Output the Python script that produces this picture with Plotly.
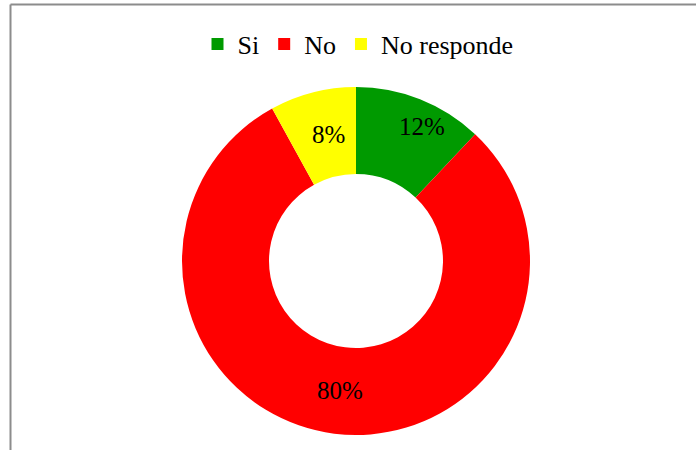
import math
import plotly.graph_objects as go

labels = ["Si", "No", "No responde"]
values = [12, 80, 8]
colors = ["#009A00", "#FF0000", "#FFFF00"]

W, H = 696, 450
cx, cy, R = 356, 261, 174  # pie center/radius in px (layout)
hole = 0.5
FONT = "'Times New Roman', 'Liberation Serif', serif"
label_nudge = {"Si": (18, -13), "No responde": (5, 0)}  # px tweaks for label placement

fig = go.Figure(go.Pie(
    labels=labels, values=values, hole=hole, sort=False,
    direction="clockwise", rotation=0,
    marker=dict(colors=colors, line=dict(width=0)),
    textinfo="none", hoverinfo="label+percent",
    domain=dict(x=[(cx - R) / W, (cx + R) / W], y=[(H - cy - R) / H, (H - cy + R) / H]),
))

total = sum(values)
annotations = []
cum = 0
rm = R * (1 + hole) / 2
for lab, v in zip(labels, values):
    mid = (cum + v / 2) / total
    cum += v
    th = 2 * math.pi * mid
    dx, dy = label_nudge.get(lab, (0, 0))
    px = cx + rm * math.sin(th) + dx
    py = cy - rm * math.cos(th) + dy
    annotations.append(dict(
        x=px / W, y=1 - py / H, xref="paper", yref="paper",
        xanchor="center", yanchor="middle",
        text=f"{round(100 * v / total)}%", showarrow=False,
        font=dict(family=FONT, size=25, color="#000"),
    ))

fig.update_layout(
    width=W, height=H, margin=dict(l=0, r=0, t=0, b=0),
    paper_bgcolor="white", plot_bgcolor="white",
    showlegend=True,
    legend=dict(orientation="h", x=(W / 2 + 10) / W, xanchor="center", y=1 - 44 / H, yanchor="middle",
                font=dict(family=FONT, size=26, color="#000"),
                itemwidth=30, traceorder="normal"),
    annotations=annotations,
    shapes=[
        dict(type="line", xref="paper", yref="paper", x0=10.5 / W, x1=1, y0=1 - 4.5 / H, y1=1 - 4.5 / H,
             line=dict(color="#8C8C8C", width=2)),
        dict(type="line", xref="paper", yref="paper", x0=10.5 / W, x1=10.5 / W, y0=0, y1=1 - 4.5 / H,
             line=dict(color="#8C8C8C", width=2)),
    ],
)

fig.write_html("out.html", config={"displayModeBar": False},
               post_script="document.body.style.margin='0';")
